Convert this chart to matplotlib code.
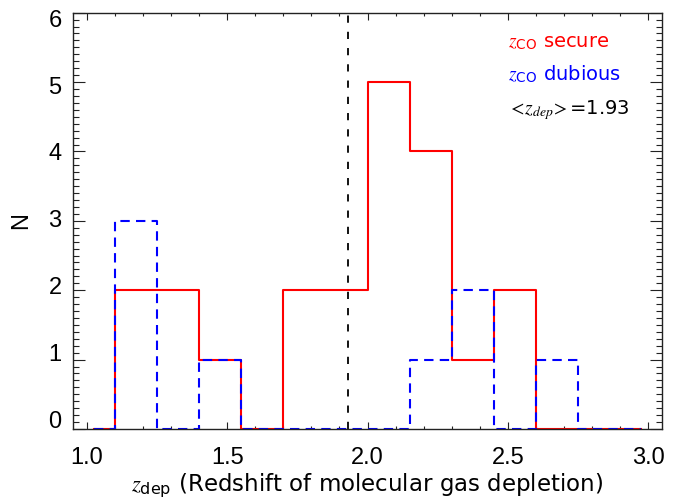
import numpy as np
import matplotlib
matplotlib.use('Agg')
import matplotlib.pyplot as plt
import matplotlib.transforms as mtransforms
from matplotlib.ticker import MultipleLocator

plt.rcParams['font.family'] = ['Liberation Sans', 'DejaVu Sans']
plt.rcParams['mathtext.fontset'] = 'stix'

# bin centres (width 0.15) and counts
z_centers = [1.025, 1.175, 1.325, 1.475, 1.625, 1.775, 1.925,
             2.075, 2.225, 2.375, 2.525, 2.675, 2.825, 2.975]
n_secure = [0, 2, 2, 1, 0, 2, 2, 5, 4, 1, 2, 0, 0, 0]
n_dubious = [0, 3, 0, 1, 0, 0, 0, 0, 1, 2, 0, 1, 0, 0]
z_mean = 1.93

x_ticks = [1.0, 1.5, 2.0, 2.5, 3.0]
y_ticks = [0, 1, 2, 3, 4, 5, 6]

fig = plt.figure(figsize=(6.79, 4.99), dpi=100)
ax = fig.add_axes([0.1071, 0.1403, 0.8683, 0.8343])

ax.step(z_centers, n_secure, where='mid', color='red', lw=1.5)
ax.step(z_centers, n_dubious, where='mid', color='blue', lw=1.5,
        linestyle=(0, (4.5, 3.0)))
ax.axvline(z_mean, color='black', lw=1.3, linestyle=(0, (4.0, 5.0)))

ax.set_xlim(0.95, 3.05)
ax.set_ylim(0, 6)
ax.set_xticks(x_ticks)
ax.set_xticklabels(['%.1f' % t for t in x_ticks])
ax.xaxis.set_minor_locator(MultipleLocator(0.1))
ax.set_yticks(y_ticks)
ax.yaxis.set_minor_locator(MultipleLocator(0.1))
ax.tick_params(which='both', direction='in', top=True, right=True,
               width=0.8, color='#222222')
ax.tick_params(axis='x', which='major', length=5, labelsize=17, pad=13)
ax.tick_params(axis='x', which='minor', length=2.5)
ax.tick_params(axis='y', which='major', length=8.5, labelleft=False)
ax.tick_params(axis='y', which='minor', length=4.3)
for s in ax.spines.values():
    s.set_linewidth(1.0)
    s.set_color('#222222')

# y tick labels shifted inward like IDL
ytrans = mtransforms.blended_transform_factory(ax.transAxes, ax.transData)
for v in y_ticks:
    dy = -7.3 + v * 2.55
    ax.annotate(str(v), xy=(0, v), xycoords=ytrans,
                xytext=(-8, -dy * 0.72), textcoords='offset points',
                ha='right', va='center', fontsize=17)

ax.set_ylabel('N', fontsize=17, labelpad=26)
ax.set_xlabel(r'$z_{\mathregular{dep}}$ (Redshift of molecular gas depletion)',
              fontsize=16.5, labelpad=2, family=['DejaVu Sans'])

ax.text(0.738, 0.918, r'$z_{\mathregular{CO}}$ secure', color='red',
        fontsize=14, transform=ax.transAxes, va='baseline',
        family=['DejaVu Sans'])
ax.text(0.738, 0.837, r'$z_{\mathregular{CO}}$ dubious', color='blue',
        fontsize=14, transform=ax.transAxes, va='baseline',
        family=['DejaVu Sans'])
ax.text(0.738, 0.756, r'$<\!z_{dep}\!>$=%.2f' % z_mean, color='black',
        fontsize=14, transform=ax.transAxes, va='baseline',
        family=['DejaVu Sans'])

fig.savefig('out.png', dpi=100)
